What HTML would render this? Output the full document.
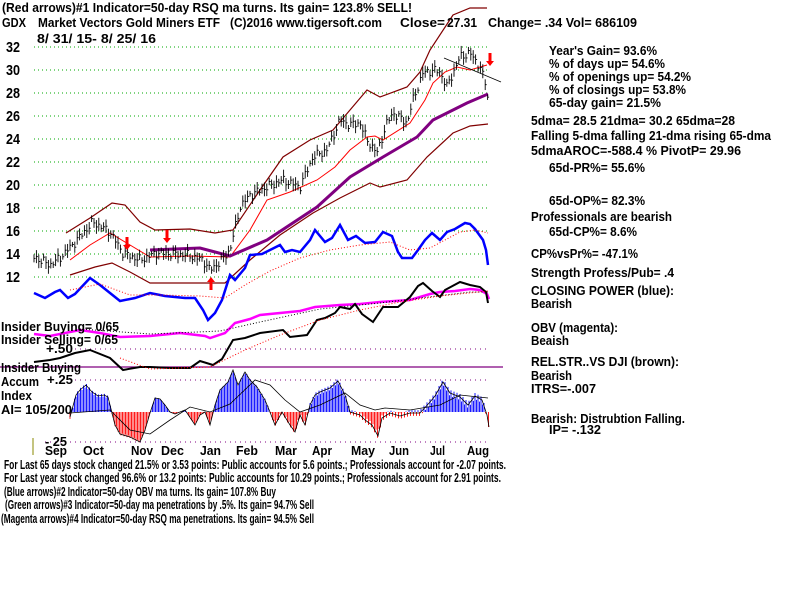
<!DOCTYPE html>
<html><head><meta charset="utf-8"><style>
html,body{margin:0;padding:0;background:#fff;width:800px;height:600px;overflow:hidden}
svg{display:block}
text{font-family:"Liberation Sans Narrow","Liberation Sans",sans-serif;font-weight:bold;fill:#000}
.t{font-size:13px}
.s{font-size:12.5px}
.y{font-size:15px}
</style></head><body>
<svg id="c" width="800" height="600" xmlns="http://www.w3.org/2000/svg">
<g id="grid" stroke="#0a0" stroke-width="1" stroke-dasharray="1,3"></g>
<g id="plot"></g>
<text class="t" x="2" y="12" textLength="410" lengthAdjust="spacingAndGlyphs">(Red arrows)#1 Indicator=50-day RSQ ma turns. Its gain= 123.8% SELL!</text>
<text class="t" x="2" y="27" textLength="24" lengthAdjust="spacingAndGlyphs">GDX</text>
<text class="t" x="38" y="27" textLength="182" lengthAdjust="spacingAndGlyphs">Market Vectors Gold Miners ETF</text>
<text class="t" x="230" y="27" textLength="152" lengthAdjust="spacingAndGlyphs">(C)2016 www.tigersoft.com</text>
<text class="t" x="400" y="27" textLength="45" lengthAdjust="spacingAndGlyphs">Close=</text>
<text class="t" x="447" y="27" textLength="30" lengthAdjust="spacingAndGlyphs">27.31</text>
<text class="t" x="488" y="27" textLength="149" lengthAdjust="spacingAndGlyphs">Change= .34 Vol= 686109</text>
<text class="t" x="37" y="43" textLength="119" lengthAdjust="spacingAndGlyphs">8/ 31/ 15- 8/ 25/ 16</text>
<text class="y" x="6" y="52" textLength="14" lengthAdjust="spacingAndGlyphs">32</text><text class="y" x="6" y="75" textLength="14" lengthAdjust="spacingAndGlyphs">30</text><text class="y" x="6" y="98" textLength="14" lengthAdjust="spacingAndGlyphs">28</text>
<text class="y" x="6" y="121" textLength="14" lengthAdjust="spacingAndGlyphs">26</text><text class="y" x="6" y="144" textLength="14" lengthAdjust="spacingAndGlyphs">24</text><text class="y" x="6" y="167" textLength="14" lengthAdjust="spacingAndGlyphs">22</text>
<text class="y" x="6" y="190" textLength="14" lengthAdjust="spacingAndGlyphs">20</text><text class="y" x="6" y="213" textLength="14" lengthAdjust="spacingAndGlyphs">18</text><text class="y" x="6" y="236" textLength="14" lengthAdjust="spacingAndGlyphs">16</text>
<text class="y" x="6" y="259" textLength="14" lengthAdjust="spacingAndGlyphs">14</text><text class="y" x="6" y="282" textLength="14" lengthAdjust="spacingAndGlyphs">12</text>
<text class="t" x="1" y="331" textLength="118" lengthAdjust="spacingAndGlyphs">Insider Buying= 0/65</text>
<text class="t" x="1" y="344" textLength="117" lengthAdjust="spacingAndGlyphs">Insider Selling= 0/65</text>
<text class="t" x="46" y="353" textLength="27" lengthAdjust="spacingAndGlyphs">+.50</text>
<text class="t" x="1" y="372" textLength="80" lengthAdjust="spacingAndGlyphs">Insider Buying</text>
<text class="t" x="1" y="386" textLength="38" lengthAdjust="spacingAndGlyphs">Accum</text>
<text class="t" x="47" y="384" textLength="26" lengthAdjust="spacingAndGlyphs">+.25</text>
<text class="t" x="1" y="400" textLength="31" lengthAdjust="spacingAndGlyphs">Index</text>
<text class="t" x="1" y="414" textLength="71" lengthAdjust="spacingAndGlyphs">AI= 105/200</text>
<text class="t" x="45" y="446" textLength="22" lengthAdjust="spacingAndGlyphs">- 25</text>
<text class="t" x="45" y="455" textLength="22" lengthAdjust="spacingAndGlyphs">Sep</text><text class="t" x="83" y="455" textLength="21" lengthAdjust="spacingAndGlyphs">Oct</text><text class="t" x="131" y="455" textLength="22" lengthAdjust="spacingAndGlyphs">Nov</text>
<text class="t" x="161" y="455" textLength="23" lengthAdjust="spacingAndGlyphs">Dec</text><text class="t" x="200" y="455" textLength="21" lengthAdjust="spacingAndGlyphs">Jan</text><text class="t" x="236" y="455" textLength="22" lengthAdjust="spacingAndGlyphs">Feb</text>
<text class="t" x="275" y="455" textLength="22" lengthAdjust="spacingAndGlyphs">Mar</text><text class="t" x="312" y="455" textLength="20" lengthAdjust="spacingAndGlyphs">Apr</text><text class="t" x="351" y="455" textLength="24" lengthAdjust="spacingAndGlyphs">May</text>
<text class="t" x="389" y="455" textLength="20" lengthAdjust="spacingAndGlyphs">Jun</text><text class="t" x="430" y="455" textLength="15" lengthAdjust="spacingAndGlyphs">Jul</text><text class="t" x="467" y="455" textLength="22" lengthAdjust="spacingAndGlyphs">Aug</text>
<line x1="33" y1="438" x2="33" y2="455" stroke="#880" stroke-width="1"/>
<text class="s" x="4" y="469" textLength="502" lengthAdjust="spacingAndGlyphs">For Last 65 days stock changed  21.5% or  3.53 points:  Public accounts for  5.6 points.;  Professionals account for -2.07 points.</text>
<text class="s" x="4" y="482" textLength="497" lengthAdjust="spacingAndGlyphs">For Last year stock changed  96.6% or  13.2 points:  Public accounts for  10.29 points.;  Professionals account for  2.91 points.</text>
<text class="s" x="4" y="496" textLength="272" lengthAdjust="spacingAndGlyphs">(Blue arrows)#2 Indicator=50-day OBV ma turns. Its gain= 107.8% Buy</text>
<text class="s" x="5" y="509" textLength="309" lengthAdjust="spacingAndGlyphs">(Green arrows)#3 Indicator=50-day ma penetrations by .5%. Its gain= 94.7% Sell</text>
<text class="s" x="1" y="523" textLength="313" lengthAdjust="spacingAndGlyphs">(Magenta arrows)#4 Indicator=50-day RSQ ma penetrations. Its gain= 94.5% Sell</text>
<text class="t" x="549" y="55" textLength="108" lengthAdjust="spacingAndGlyphs">Year's Gain= 93.6%</text>
<text class="t" x="549" y="68" textLength="116" lengthAdjust="spacingAndGlyphs">% of days up= 54.6%</text>
<text class="t" x="549" y="81" textLength="142" lengthAdjust="spacingAndGlyphs">% of openings up= 54.2%</text>
<text class="t" x="549" y="94" textLength="137" lengthAdjust="spacingAndGlyphs">% of closings up= 53.8%</text>
<text class="t" x="549" y="107" textLength="112" lengthAdjust="spacingAndGlyphs">65-day gain= 21.5%</text>
<text class="t" x="531" y="125" textLength="204" lengthAdjust="spacingAndGlyphs">5dma= 28.5 21dma= 30.2 65dma=28</text>
<text class="t" x="531" y="140" textLength="240" lengthAdjust="spacingAndGlyphs">Falling 5-dma  falling 21-dma  rising 65-dma</text>
<text class="t" x="531" y="155" textLength="210" lengthAdjust="spacingAndGlyphs">5dmaAROC=-588.4 %  PivotP= 29.96</text>
<text class="t" x="549" y="172" textLength="96" lengthAdjust="spacingAndGlyphs">65d-PR%= 55.6%</text>
<text class="t" x="549" y="205" textLength="96" lengthAdjust="spacingAndGlyphs">65d-OP%= 82.3%</text>
<text class="t" x="531" y="221" textLength="141" lengthAdjust="spacingAndGlyphs">Professionals are bearish</text>
<text class="t" x="549" y="236" textLength="88" lengthAdjust="spacingAndGlyphs">65d-CP%= 8.6%</text>
<text class="t" x="531" y="258" textLength="107" lengthAdjust="spacingAndGlyphs">CP%vsPr%= -47.1%</text>
<text class="t" x="531" y="277" textLength="143" lengthAdjust="spacingAndGlyphs">Strength Profess/Pub= .4</text>
<text class="t" x="531" y="295" textLength="143" lengthAdjust="spacingAndGlyphs">CLOSING POWER (blue):</text>
<text class="t" x="531" y="308" textLength="41" lengthAdjust="spacingAndGlyphs">Bearish</text>
<text class="t" x="531" y="332" textLength="87" lengthAdjust="spacingAndGlyphs">OBV (magenta):</text>
<text class="t" x="531" y="345" textLength="38" lengthAdjust="spacingAndGlyphs">Beaish</text>
<text class="t" x="531" y="366" textLength="148" lengthAdjust="spacingAndGlyphs">REL.STR..VS DJI (brown):</text>
<text class="t" x="531" y="380" textLength="41" lengthAdjust="spacingAndGlyphs">Bearish</text>
<text class="t" x="531" y="393" textLength="65" lengthAdjust="spacingAndGlyphs">ITRS=-.007</text>
<text class="t" x="531" y="423" textLength="154" lengthAdjust="spacingAndGlyphs">Bearish: Distrubtion Falling.</text>
<text class="t" x="549" y="434" textLength="52" lengthAdjust="spacingAndGlyphs">IP= -.132</text>
</svg>
<script>
var NS="http://www.w3.org/2000/svg",plot=document.getElementById('plot'),grid=document.getElementById('grid');
function el(t,a,p){var e=document.createElementNS(NS,t);for(var k in a)e.setAttribute(k,a[k]);(p||plot).appendChild(e);return e;}
function Y(p){return 47+(32-p)*11.5;}
for(var p=12;p<=32;p+=2)el('line',{x1:34,x2:490,y1:Y(p),y2:Y(p)},grid);
function interp(pts,x){for(var i=0;i<pts.length-1;i++){if(x>=pts[i][0]&&x<=pts[i+1][0]){var t=(x-pts[i][0])/(pts[i+1][0]-pts[i][0]);return pts[i][1]+t*(pts[i+1][1]-pts[i][1]);}}return pts[pts.length-1][1];}
function pl(pts,st){var s=pts.map(function(q){return q[0]+','+q[1];}).join(' ');return el('polyline',Object.assign({points:s,fill:'none'},st));}
var dot={stroke:'#800080','stroke-width':1,'stroke-dasharray':'1,4'};
el('line',Object.assign({x1:75,x2:490,y1:349,y2:349},dot));
el('line',Object.assign({x1:75,x2:490,y1:380,y2:380},dot));
el('line',Object.assign({x1:45,x2:490,y1:442,y2:442},dot));
el('line',{x1:0,x2:503,y1:367,y2:367,stroke:'#800080','stroke-width':1.3});
var price=[[34,257],[50,265],[60,258],[77,240],[93,222],[110,232],[123,253],[140,260],[157,253],[187,255],[203,260],[210,270],[220,262],[230,250],[240,207],[250,195],[267,187],[283,180],[300,187],[313,157],[327,150],[340,120],[350,125],[360,123],[367,140],[377,153],[387,123],[393,113],[407,123],[413,100],[423,73],[433,70],[440,72],[447,87],[453,73],[460,57],[470,53],[480,67],[486,85],[488,100]];
var bandSt={stroke:'#800000','stroke-width':1.2};
pl([[66,233],[90,218],[112,203],[125,205],[140,222],[155,230],[190,229],[215,233],[233,230],[260,190],[283,157],[310,140],[333,130],[350,110],[367,90],[380,97],[407,87],[420,72],[430,50],[453,15],[470,8],[487,8]],bandSt);
pl([[70,275],[95,267],[112,263],[130,272],[150,283],[190,283],[225,283],[250,260],[280,235],[313,213],[340,198],[370,183],[380,187],[407,180],[427,157],[453,133],[470,126],[488,124]],bandSt);
pl([[70,260],[90,245],[110,233],[130,245],[150,257],[190,256],[230,257],[250,230],[267,200],[290,192],[317,180],[335,167],[350,150],[367,137],[375,136],[383,140],[410,123],[425,100],[433,83],[445,72],[457,67],[470,70],[487,65]],{stroke:'#f00','stroke-width':1});
pl([[150,250],[200,248],[215,252],[230,256],[267,240],[317,207],[350,177],[383,157],[417,137],[433,120],[467,103],[488,94]],{stroke:'#800080','stroke-width':3});
for(var x=34;x<=489;x+=2.4){var c=interp(price,x)+Math.sin(x*1.7)*3+Math.sin(x*0.53)*2;var h=2.5+Math.abs(Math.sin(x*2.3))*4.5;
el('line',{x1:x,x2:x,y1:c-h,y2:c+h,stroke:'#000','stroke-width':0.9});el('line',{x1:x,x2:x+1.5,y1:c,y2:c,stroke:'#000','stroke-width':0.9});}
el('line',{x1:444,y1:58,x2:501,y2:82,stroke:'#000','stroke-width':0.8});
function arrow(x,y,dn){var d=dn?1:-1;el('rect',{x:x-1.5,y:dn?y:y-8,width:3,height:8,fill:'#f00'});el('polygon',{points:(x-4)+','+(y+d*8)+' '+(x+4)+','+(y+d*8)+' '+x+','+(y+d*13),fill:'#f00'});}
arrow(127,237,1);arrow(167,230,1);arrow(490,53,1);arrow(211,290,0);
pl([[34,293],[45,298],[55,292],[60,290],[68,298],[75,294],[90,278],[100,285],[110,293],[120,301],[135,298],[150,293],[165,296],[185,298],[195,298],[203,310],[208,320],[215,313],[222,300],[230,275],[235,280],[245,268],[250,255],[262,254],[270,250],[280,245],[285,252],[292,250],[300,252],[310,240],[315,230],[325,242],[332,238],[340,225],[348,240],[356,236],[365,243],[375,242],[383,232],[392,236],[398,252],[402,258],[412,258],[418,250],[425,240],[432,233],[440,240],[447,232],[455,229],[465,223],[470,224],[475,229],[483,240],[486,250],[488,265]],{stroke:'#00f','stroke-width':2.5});
pl([[70,290],[100,284],[130,295],[160,295],[200,296],[225,298],[245,285],[270,271],[300,258],[330,250],[360,245],[390,242],[410,250],[430,248],[460,232],[475,230],[488,233]],{stroke:'#f00','stroke-width':1,'stroke-dasharray':'1,2'});
pl([[34,334],[50,336],[80,330],[100,333],[120,337],[150,336],[180,333],[205,336],[210,338],[225,333],[235,323],[250,319],[260,315],[280,313],[300,311],[315,307],[340,305],[360,304],[380,302],[395,301],[410,300],[430,294],[440,292],[455,291],[470,289],[480,290],[487,294],[489,299]],{stroke:'#f0f','stroke-width':2.5});
pl([[80,329],[150,334],[220,331],[260,322],[320,309],[380,303],[420,298],[470,292],[488,292]],{stroke:'#000','stroke-width':1,'stroke-dasharray':'1,2'});
pl([[34,362],[50,360],[60,358],[75,353],[90,350],[110,358],[123,370],[140,367],[150,367],[170,368],[190,368],[200,361],[213,365],[222,359],[233,340],[245,338],[260,333],[283,330],[290,337],[307,335],[317,320],[325,318],[335,313],[340,307],[350,309],[355,304],[362,314],[373,322],[383,307],[398,307],[410,297],[418,286],[423,283],[432,291],[440,297],[445,290],[460,282],[470,285],[480,287],[486,292],[488,303]],{stroke:'#000','stroke-width':2});
pl([[120,358],[150,369],[210,367],[245,350],[280,335],[320,320],[360,310],[400,302],[440,296],[488,291]],{stroke:'#f00','stroke-width':1,'stroke-dasharray':'1,2'});
var ai=[[70,417],[76,395],[80,390],[86,385],[92,392],[98,396],[104,395],[108,397],[112,413],[115,425],[120,434],[130,437],[140,442],[145,430],[150,413],[155,398],[160,399],[165,405],[170,412],[175,414],[185,410],[195,425],[200,415],[205,412],[210,425],[215,405],[220,390],[228,382],[233,370],[238,385],[245,372],[250,380],[257,387],[265,400],[270,412],[275,425],[282,412],[290,425],[295,432],[300,415],[305,425],[310,405],[315,395],[320,392],[330,388],[338,381],[345,395],[350,412],[360,415],[365,420],[372,425],[378,436],[382,418],[390,413],[400,416],[410,413],[420,413],[430,402],[435,396],[443,382],[450,393],[460,397],[468,405],[475,396],[482,400],[487,415],[489,427]];
for(var x=70;x<=489;x+=1.5){var v=interp(ai,x)+Math.sin(x*2.1)*3;var pos=v<412;el('line',{x1:x,x2:x,y1:412,y2:v,stroke:pos?'#00f':'#f00','stroke-width':0.9});}
pl(ai,{stroke:'#000','stroke-width':0.8});
pl([[70,413],[110,410],[130,430],[150,434],[170,420],[190,407],[210,412],[230,404],[255,380],[270,385],[285,400],[300,412],[320,405],[345,393],[360,405],[375,410],[385,408],[410,410],[440,405],[460,395],[488,398]],{stroke:'#000','stroke-width':0.8});
</script>
</body></html>
